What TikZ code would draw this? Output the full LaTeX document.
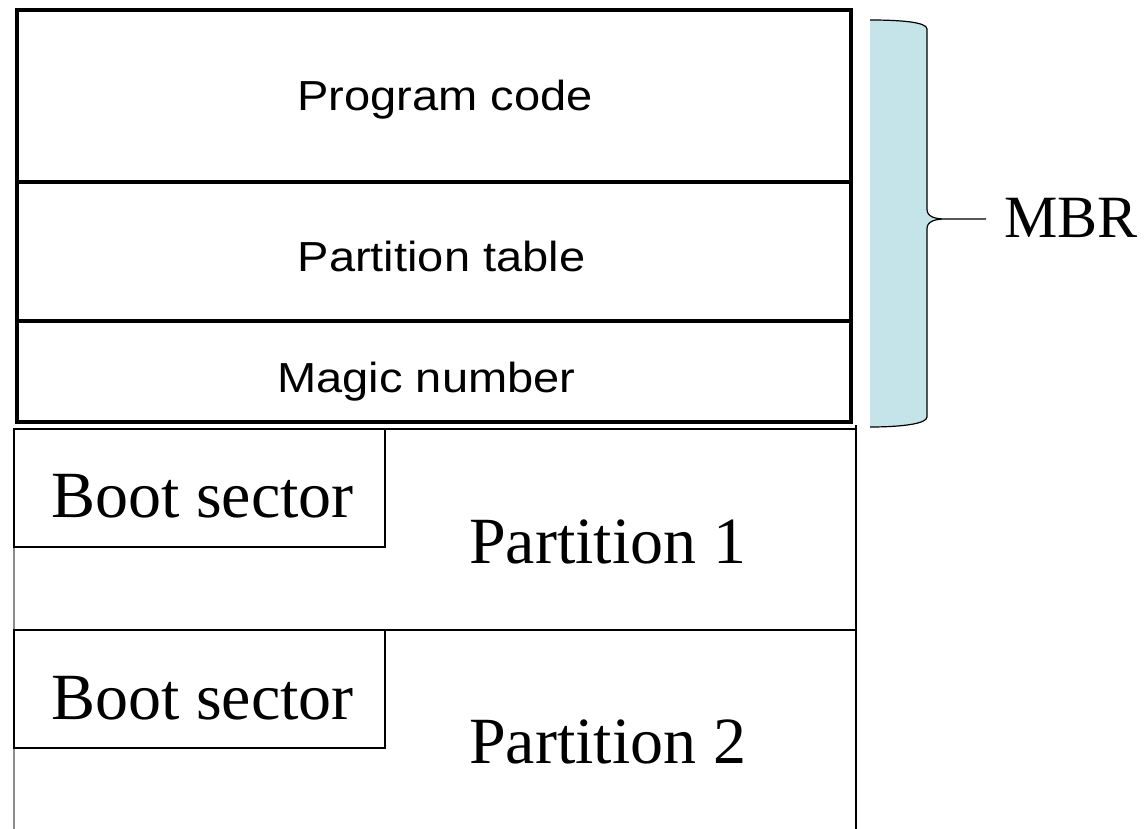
\documentclass[tikz,border=0pt]{standalone}
\usepackage{fontspec}
\usepackage{graphicx}
\setmainfont{Liberation Serif}
\newfontfamily\labsans{Liberation Sans}
\definecolor{bracefill}{RGB}{197,228,233}
\begin{document}
\begin{tikzpicture}[x=1pt,y=-1pt,
  thickbox/.style={draw=black,line width=4pt},
  thinline/.style={draw=black,line width=1.8pt},
  sanslab/.style={anchor=base,inner sep=0pt,font=\labsans\fontsize{42}{46}\selectfont},
  seriflab/.style={anchor=base west,inner sep=0pt,font=\fontsize{66}{72}\selectfont},
  mbrlab/.style={anchor=base west,inner sep=0pt,font=\fontsize{60}{66}\selectfont}]
\useasboundingbox (0,0) rectangle (1146,829);
% partition area
\draw[draw=black!45,line width=1.8pt] (14,429) -- (14,829);
\draw[thinline] (14,429) -- (856,429);
\draw[thinline] (856,425) -- (856,829);
\draw[thinline] (14,630) -- (856,630);
\draw[thinline] (14,429) rectangle (385,547);
\draw[thinline] (14,630) rectangle (385,748);
% MBR box
\draw[thickbox] (17,10) rectangle (851,422);
\draw[thickbox] (17,182.5) -- (851,182.5);
\draw[thickbox] (17,321) -- (851,321);
% brace
\fill[bracefill] (870,20) .. controls (900,20) and (927,22) .. (927,29) -- (927,209)
  .. controls (927,216) and (933,219) .. (946,219) -- (986,219) -- (946,219)
  .. controls (933,219) and (927,222) .. (927,229) -- (927,417)
  .. controls (927,424) and (900,427) .. (870,427) -- cycle;
\draw[line width=1.2pt] (870,20) .. controls (900,20) and (927,22) .. (927,29) -- (927,209)
  .. controls (927,216) and (933,219) .. (946,219) -- (986,219) -- (946,219)
  .. controls (933,219) and (927,222) .. (927,229) -- (927,417)
  .. controls (927,424) and (900,427) .. (870,427);
% labels
\node[sanslab] (prog) at (445,111) {\scalebox{1.12}[1]{Program code}};
\node[sanslab] (ptab) at (441.5,272) {\scalebox{1.12}[1]{Partition table}};
\node[sanslab] (magic) at (426.5,392) {\scalebox{1.12}[1]{Magic number}};
\node[seriflab] (boot1) at (51,517) {Boot sector};
\node[seriflab] (boot2) at (51,719) {Boot sector};
\node[seriflab] (part1) at (469,563) {Partition 1};
\node[seriflab] (part2) at (469,763) {Partition 2};
\node[mbrlab] (mbr) at (1004,237) {MBR};
\end{tikzpicture}
\end{document}
